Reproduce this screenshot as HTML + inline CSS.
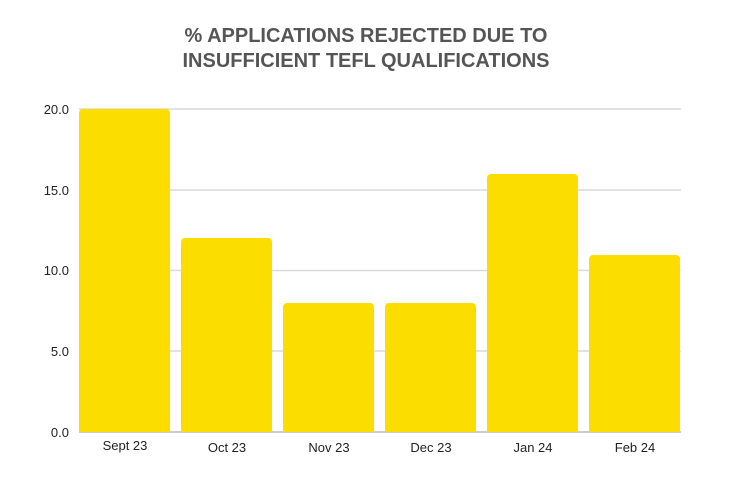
<!DOCTYPE html>
<html><head><style>body{margin:0;background:#fff}</style></head><body>
<svg width="733" height="477" xmlns="http://www.w3.org/2000/svg" font-family="Liberation Sans, sans-serif">
<rect width="733" height="477" fill="#fff"/>
<text x="366" y="42" text-anchor="middle" font-size="20" font-weight="bold" fill="#555">% APPLICATIONS REJECTED DUE TO</text>
<text x="366" y="67" text-anchor="middle" font-size="20" font-weight="bold" fill="#555">INSUFFICIENT TEFL QUALIFICATIONS</text>
<g stroke="#d9d9d9" stroke-width="1.5">
<line x1="79" x2="681" y1="109" y2="109"/>
<line x1="79" x2="681" y1="190" y2="190"/>
<line x1="79" x2="681" y1="270.5" y2="270.5"/>
<line x1="79" x2="681" y1="351" y2="351"/>
<line x1="79" x2="681" y1="432" y2="432" stroke="#bbb"/>
</g>
<g font-size="13" fill="#222" text-anchor="end">
<text x="69" y="114">20.0</text>
<text x="69" y="195">15.0</text>
<text x="69" y="275">10.0</text>
<text x="69" y="356">5.0</text>
<text x="69" y="437">0.0</text>
</g>
<g fill="#FBDD00">
<path d="M79,432V113a4,4 0 0 1 4,-4h83a4,4 0 0 1 4,4V432Z"/>
<path d="M181,432V242a4,4 0 0 1 4,-4h83a4,4 0 0 1 4,4V432Z"/>
<path d="M283,432V307a4,4 0 0 1 4,-4h83a4,4 0 0 1 4,4V432Z"/>
<path d="M385,432V307a4,4 0 0 1 4,-4h83a4,4 0 0 1 4,4V432Z"/>
<path d="M487,432V178a4,4 0 0 1 4,-4h83a4,4 0 0 1 4,4V432Z"/>
<path d="M589,432V259a4,4 0 0 1 4,-4h83a4,4 0 0 1 4,4V432Z"/>
</g>
<g font-size="13" fill="#222" text-anchor="middle">
<text x="125" y="450">Sept 23</text>
<text x="227" y="452">Oct 23</text>
<text x="329" y="452">Nov 23</text>
<text x="431" y="452">Dec 23</text>
<text x="533" y="452">Jan 24</text>
<text x="635" y="452">Feb 24</text>
</g>
</svg>
</body></html>
